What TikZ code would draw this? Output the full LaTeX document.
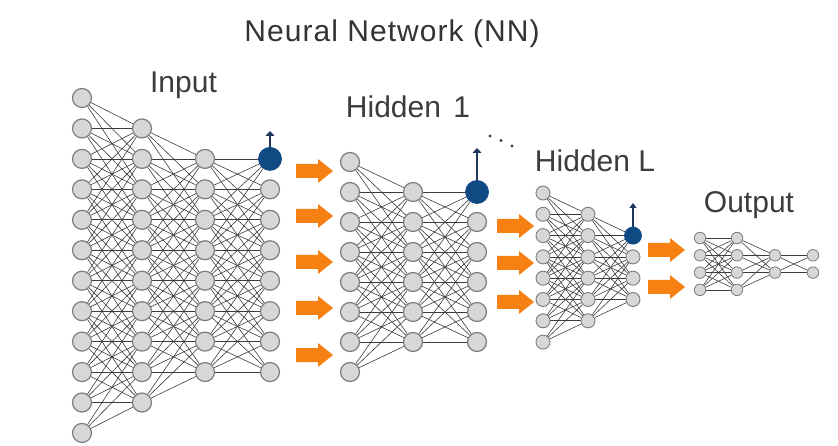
\documentclass[tikz,border=0pt]{standalone}
\usepackage{fontspec}
\setmainfont{Liberation Sans}
\usetikzlibrary{backgrounds,arrows.meta}

\definecolor{nodefill}{RGB}{215,215,215}
\definecolor{nodeline}{RGB}{125,125,125}
\definecolor{linkcol}{RGB}{60,60,60}
\definecolor{unitblue}{RGB}{16,74,130}
\definecolor{stemcol}{RGB}{30,55,90}
\definecolor{flowor}{RGB}{247,128,18}
\definecolor{labelcol}{RGB}{60,60,60}

\begin{document}
\begin{tikzpicture}[x=1pt,y=-1pt,
  neuron/.style={circle,fill=nodefill,draw=nodeline,line width=1.2pt,inner sep=0pt,minimum size=#1},
  active/.style={circle,fill=unitblue,draw=unitblue,line width=0.8pt,inner sep=0pt,minimum size=#1},
  link/.style={draw=linkcol,line width=0.6pt},
  stem/.style={draw=stemcol,line width=1.3pt,-{Triangle[width=#1,length=5pt]}},
  label/.style={text=labelcol,font=\fontsize{30}{36}\selectfont,anchor=base,inner sep=0pt},
  flow/.pic={\fill[flowor] (0,-7) -- (22,-7) -- (22,-12) -- (37,0) -- (22,12) -- (22,7) -- (0,7) -- cycle;}
]
\useasboundingbox (0,0) rectangle (838,446);

% titles
\node[label,text=black!80,font=\fontsize{30}{36}\selectfont\addfontfeatures{LetterSpace=3.5}] (title) at (392,42) {Neural Network (NN)};
\node[label] (tin) at (183.5,93) {Input};
\node[label] (th1) at (408,118) {Hidden\hspace{4pt} 1};
\node[label] (thl) at (595,172) {Hidden L};
\node[label] (tout) at (749,213) {Output};

% input block: column/x/first row/last row
\foreach \c/\x/\a/\b in {1/82/0/11, 2/142/1/10, 3/205/2/9, 4/270/2/9}{
  \foreach \r in {\a,...,\b}{
    \ifnum\c\r=42
      \node[active=23pt] (I\c-\r) at (\x,98+30.45*\r) {};
    \else
      \node[neuron=19pt] (I\c-\r) at (\x,98+30.45*\r) {};
    \fi
  }}

% hidden layer 1
\foreach \c/\x/\a/\b in {1/350/0/7, 2/413/1/6, 3/477/1/6}{
  \foreach \r in {\a,...,\b}{
    \ifnum\c\r=31
      \node[active=23pt] (H\c-\r) at (\x,162+30*\r) {};
    \else
      \node[neuron=19pt] (H\c-\r) at (\x,162+30*\r) {};
    \fi
  }}

% hidden layer L
\foreach \c/\x/\a/\b in {1/543/0/7, 2/588/1/6, 3/633/2/5}{
  \foreach \r in {\a,...,\b}{
    \ifnum\c\r=32
      \node[active=17pt] (L\c-\r) at (\x,193+21.3*\r) {};
    \else
      \node[neuron=14pt,line width=0.9pt] (L\c-\r) at (\x,193+21.3*\r) {};
    \fi
  }}

% output block
\foreach \c/\x/\a/\b in {1/700/0/3, 2/737/0/3, 3/775/1/2, 4/813/1/2}{
  \foreach \r in {\a,...,\b}{
    \node[neuron=11.5pt,line width=0.8pt] (O\c-\r) at (\x,238+17.3*\r) {};
  }}

% local connections between neighbouring columns
\begin{pgfonlayer}{background}
\foreach \p/\c/\a/\b/\u/\v in {I/1/0/11/1/10, I/2/1/10/2/9, I/3/2/9/2/9,
                              H/1/0/7/1/6, H/2/1/6/1/6,
                              L/1/0/7/1/6, L/2/1/6/2/5,
                              O/1/0/3/0/3, O/2/0/3/1/2, O/3/1/2/1/2}{
  \pgfmathtruncatemacro\n{\c+1}
  \foreach \r in {\a,...,\b}{
    \foreach \s in {\u,...,\v}{
      \pgfmathtruncatemacro\dd{abs(\r-\s)}
      \ifnum\dd<4 \draw[link] (\p\c-\r) -- (\p\n-\s);\fi
    }}}
\end{pgfonlayer}

% outputs leaving the active units
\coordinate (upI) at (270,131);
\coordinate (upH) at (477,148);
\coordinate (upL) at (633,203);
\draw[stem=9pt] (I4-2.north) -- (upI);
\draw[stem=9pt] (H3-1.north) -- (upH);
\draw[stem=7pt,line width=1.1pt] (L3-2.north) -- (upL);

% ellipsis between hidden layers
\foreach \px/\py in {490/136, 501/140.5, 512/146}
  \fill[linkcol] (\px,\py) circle (1.6pt);

% data flow arrows
\foreach \py in {171,216,262,308,355} \pic at (296,\py) {flow};
\foreach \py in {226,263,302} \pic at (497,\py) {flow};
\foreach \py in {250,287} \pic at (648,\py) {flow};
\end{tikzpicture}
\end{document}
